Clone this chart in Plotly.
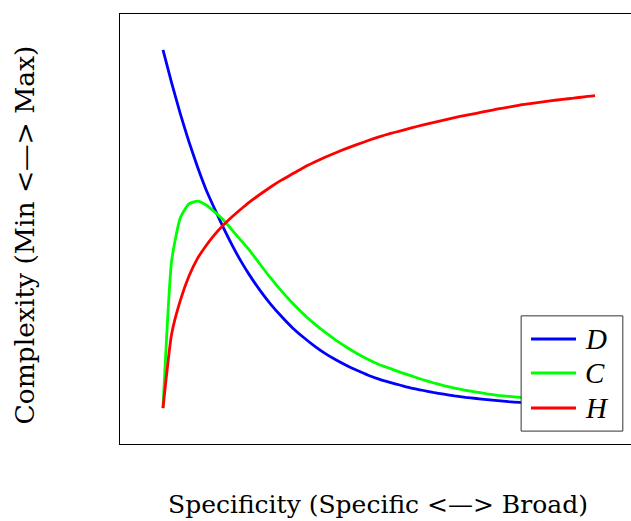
import plotly.graph_objects as go

# Specificity axis (0 = specific, 1 = broad)
specificity = [0.00, 0.02, 0.04, 0.06, 0.08, 0.10, 0.12, 0.14, 0.16, 0.18,
               0.20, 0.225, 0.25, 0.275, 0.30, 0.325, 0.35, 0.375, 0.40, 0.425,
               0.45, 0.475, 0.50, 0.525, 0.55, 0.575, 0.60, 0.625, 0.65, 0.675,
               0.70, 0.725, 0.75, 0.775, 0.80, 0.825, 0.85, 0.875, 0.90, 0.925,
               0.95, 0.975, 1.00]

# D curve
d_values = [1.000, 0.908, 0.822, 0.744, 0.673, 0.609, 0.555, 0.503, 0.455, 0.411,
            0.372, 0.328, 0.289, 0.255, 0.224, 0.198, 0.174, 0.153, 0.135, 0.119,
            0.105, 0.092, 0.081, 0.072, 0.064, 0.056, 0.050, 0.044, 0.039, 0.034,
            0.030, 0.027, 0.024, 0.021, 0.018, 0.016, 0.014, 0.013, 0.011, 0.010,
            0.009, 0.008, 0.007]

# C curve
c_values = [0.000, 0.411, 0.531, 0.570, 0.578, 0.567, 0.547, 0.525, 0.497, 0.469,
            0.441, 0.401, 0.362, 0.326, 0.293, 0.263, 0.236, 0.212, 0.190, 0.170,
            0.152, 0.136, 0.122, 0.111, 0.100, 0.090, 0.080, 0.071, 0.063, 0.056,
            0.050, 0.045, 0.040, 0.036, 0.033, 0.030, 0.027, 0.025, 0.023, 0.021,
            0.019, 0.018, 0.017]

# H curve
h_values = [0.000, 0.207, 0.300, 0.368, 0.418, 0.454, 0.485, 0.511, 0.534, 0.555,
            0.575, 0.597, 0.618, 0.637, 0.654, 0.671, 0.686, 0.700, 0.713, 0.725,
            0.736, 0.747, 0.757, 0.766, 0.774, 0.782, 0.790, 0.797, 0.804, 0.811,
            0.817, 0.823, 0.829, 0.835, 0.840, 0.846, 0.850, 0.854, 0.858, 0.862,
            0.865, 0.869, 0.872]

series_names = ["D", "C", "H"]
series_colors = ["#0000ff", "#00ff00", "#ff0000"]
x_title = "Specificity (Specific &lt;—&gt; Broad)"
y_title = "Complexity (Min &lt;—&gt; Max)"

serif = "DejaVu Serif, Liberation Serif, serif"
LINE_W = 2.8

fig = go.Figure()
for name, vals, col in zip(series_names, [d_values, c_values, h_values], series_colors):
    fig.add_trace(go.Scatter(
        x=specificity, y=vals, mode="lines", name=name,
        line=dict(color=col, width=LINE_W, shape="spline", smoothing=0.5),
        showlegend=False,
    ))

# Boxed key in the lower-right corner of the axes
shapes = [dict(type="rect", xref="paper", yref="paper",
               x0=0.785, x1=0.984, y0=0.030, y1=0.298,
               line=dict(color="#333333", width=1), fillcolor="white",
               layer="above")]
annotations = []
row_y = [0.2442, 0.1651, 0.0837]
for name, col, ry in zip(series_names, series_colors, row_y):
    shapes.append(dict(type="line", xref="paper", yref="paper",
                       x0=0.8043, x1=0.8924, y0=ry, y1=ry,
                       line=dict(color=col, width=LINE_W), layer="above"))
    annotations.append(dict(text=f"<i>{name}</i>", xref="paper", yref="paper",
                            x=0.906, y=ry, xanchor="left", yanchor="middle",
                            showarrow=False,
                            font=dict(family="Liberation Serif, serif", size=29,
                                      color="black")))

annotations += [
    dict(text=x_title, xref="paper", yref="paper", x=0.504, y=0,
         xanchor="center", yanchor="top", yshift=-44, showarrow=False,
         font=dict(family=serif, size=25, color="black")),
    dict(text=y_title, xref="paper", yref="paper", x=0, y=0.5,
         xanchor="right", yanchor="middle", xshift=-79, yshift=-6, textangle=-90,
         showarrow=False,
         font=dict(family=serif, size=26.5, color="black")),
]

fig.update_layout(
    width=631, height=521,
    margin=dict(l=120, r=0, t=14, b=77),
    paper_bgcolor="white", plot_bgcolor="white",
    showlegend=False,
    xaxis=dict(
        range=[-0.0995, 1.0833], showgrid=False, zeroline=False,
        showticklabels=False, ticks="",
        showline=True, linecolor="black", linewidth=1.2, mirror=True,
    ),
    yaxis=dict(
        range=[-0.1, 1.1], showgrid=False, zeroline=False,
        showticklabels=False, ticks="",
        showline=True, linecolor="black", linewidth=1.2, mirror=False,
    ),
    shapes=shapes,
    annotations=annotations,
)

fig.write_html("out.html")
